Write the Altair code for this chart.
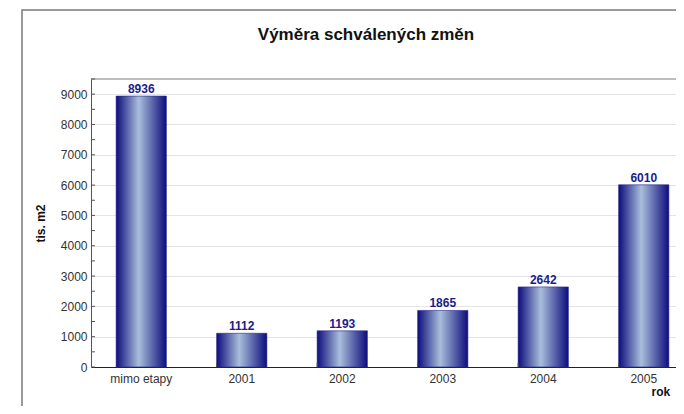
import altair as alt
import pandas as pd

categories = ["mimo etapy", "2001", "2002", "2003", "2004", "2005"]
values = [8936, 1112, 1193, 1865, 2642, 6010]
y_tick_labels = [0, 1000, 2000, 3000, 4000, 5000, 6000, 7000, 8000, 9000]
y_minor_ticks = [0, 500, 1000, 1500, 2000, 2500, 3000, 3500, 4000, 4500,
                 5000, 5500, 6000, 6500, 7000, 7500, 8000, 8500, 9000, 9500]
boundary_cats = ["2001", "2002", "2003", "2004", "2005"]
chart_title = "Výměra schválených změn"

df = pd.DataFrame({"cat": categories, "val": values})
FONT = "Liberation Sans"

grad = alt.Gradient(
    gradient="linear",
    stops=[
        alt.GradientStop(color="#0d0d7c", offset=0),
        alt.GradientStop(color="#a9bedb", offset=0.45),
        alt.GradientStop(color="#0d0d7c", offset=1),
    ],
    x1=0, x2=1, y1=0, y2=0,
)

xscale = alt.Scale(paddingInner=0.5, paddingOuter=0.25, range=[0, 603])
yscale = alt.Scale(domain=[0, 9500], nice=False)
x_axis = alt.Axis(
    title="rok", labelAngle=0, labelFont=FONT, labelFontSize=12, labelColor="#333333",
    labelPadding=6, ticks=False, tickSize=0, domainColor="#222222", domainWidth=1,
    titleFont=FONT, titleFontSize=12, titleFontWeight="bold", titleColor="#111111",
    titleX=560, titleY=24, titleAlign="left", titleBaseline="middle", grid=False,
    labelOverlap=False,
)
y_axis = alt.Axis(
    title="tis. m2", values=y_tick_labels, format="d", labelFont=FONT, labelFontSize=12,
    labelColor="#333333", labelPadding=4, ticks=False, tickSize=0, labelOverlap=False,
    domainColor="#555555", grid=True, gridColor="#e4e4e4", gridWidth=1,
    titleFont=FONT, titleFontSize=12, titleFontWeight="bold", titleColor="#111111",
    titleX=-51, titleY=144, titleAlign="center", titleBaseline="middle", titleAngle=270,
)


def xe(**kw):
    return alt.X("cat:N", sort=categories, scale=xscale, axis=x_axis, **kw)


def ye():
    return alt.Y("val:Q", scale=yscale, axis=y_axis)


frame = alt.Chart(pd.DataFrame({"a": [0]})).mark_rect(
    fillOpacity=0, stroke="#7a7a7a", strokeWidth=1.5
).encode(x=alt.value(-69), x2=alt.value(720), y=alt.value(-69), y2=alt.value(420))

title_mark = alt.Chart(pd.DataFrame({"t": [chart_title]})).mark_text(
    font=FONT, fontSize=17, fontWeight="bold", color="#111111", align="center", baseline="middle"
).encode(text="t:N", x=alt.value(275), y=alt.value(-44))

top_border = alt.Chart(pd.DataFrame({"a": [0]})).mark_rule(color="#7d7d7d", strokeWidth=1).encode(
    x=alt.value(0), x2=alt.value(720), y=alt.value(0)
)

bars = alt.Chart(df).mark_bar(color=grad, stroke="#25258f", strokeWidth=0.6).encode(x=xe(), y=ye())

labels = alt.Chart(df).mark_text(
    dy=-7, font=FONT, fontSize=12, fontWeight="bold", color="#1c1c8a"
).encode(x=xe(), y=ye(), text=alt.Text("val:Q", format="d"))

yticks = alt.Chart(pd.DataFrame({"val": y_minor_ticks})).mark_rule(color="#555555", strokeWidth=1).encode(
    y=ye(), x=alt.value(0), x2=alt.value(4)
)

xticks = alt.Chart(pd.DataFrame({"cat": boundary_cats})).mark_rule(color="#555555", strokeWidth=1).encode(
    x=xe(bandPosition=0), y=alt.value(288), y2=alt.value(284)
)

chart = alt.layer(bars, frame, title_mark, top_border, labels, yticks, xticks).properties(
    width=585, height=288,
    autosize=alt.AutoSizeParams(type="none"),
    padding={"left": 83, "top": 71, "right": 0, "bottom": 39},
).configure_view(strokeWidth=0, fill="white")

chart.save("out.html", embed_options={"renderer": "svg", "actions": False})
